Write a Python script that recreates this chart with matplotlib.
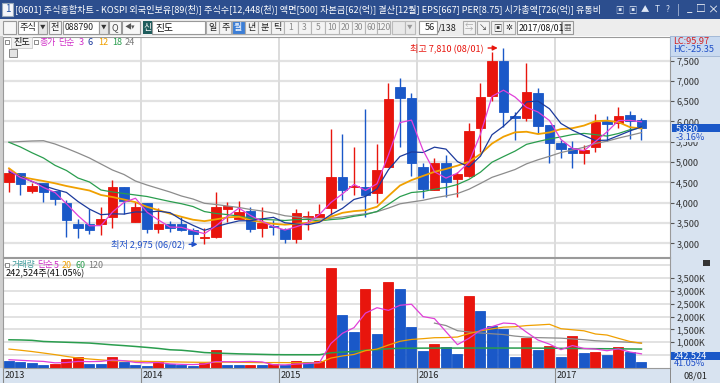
import numpy as np
import matplotlib
matplotlib.use("Agg")
import matplotlib.pyplot as plt
from matplotlib.patches import Rectangle
from matplotlib.transforms import blended_transform_factory

plt.rcParams['font.family'] = ['Noto Sans CJK KR', 'DejaVu Sans']

# monthly candles, Jan 2013 .. Aug 2017
years = ['2013', '2014', '2015', '2016', '2017']
year_start = [0, 12, 24, 36, 48]

opens = [4517, 4724, 4288, 4485, 4288, 3993, 3468, 3468, 3468, 3655, 4379, 3532, 3985, 3352,
         3468, 3468, 3328, 3123, 3163, 3837, 3599, 3796, 3369, 3420, 3345, 3106, 3655, 3655,
         3862, 4626, 4390, 4394, 4232, 4887, 6842, 6571, 4887, 4313, 4970, 4576, 4665, 5832,
         6635, 7490, 6135, 6094, 6709, 5914, 5463, 5340, 5232, 5379, 6012, 5956, 6160, 6030]
highs = [4855, 4730, 4478, 4490, 4290, 4067, 3599, 3845, 3901, 4559, 4390, 4025, 3985, 3862,
         3549, 3655, 3369, 3369, 4271, 4025, 4049, 3901, 3887, 3574, 3369, 3845, 3796, 3968,
         5815, 5692, 5380, 6300, 5445, 6941, 7079, 6695, 4970, 5094, 5175, 4760, 5970, 6956,
         7700, 7810, 6241, 7433, 6818, 5914, 5544, 5527, 5421, 6185, 6135, 6365, 6259, 6080]
lows = [4271, 4190, 4232, 4025, 3943, 3163, 3138, 3229, 3204, 3369, 3714, 3532, 3261, 3246,
        3286, 3303, 3039, 2975, 3138, 3532, 3599, 3286, 3163, 3204, 3000, 3015, 3328, 3655,
        3697, 4067, 4190, 3655, 3985, 4887, 5379, 4665, 4108, 4313, 4148, 4133, 4640, 5256,
        6500, 5872, 5540, 6000, 5709, 4985, 5094, 4847, 4946, 5256, 5527, 5833, 5561, 5544]
closes = [4724, 4453, 4419, 4256, 4084, 3581, 3384, 3328, 3599, 4379, 4049, 3901, 3352, 3468,
          3384, 3328, 3222, 3163, 3901, 3926, 3778, 3352, 3493, 3390, 3098, 3739, 3680, 3714,
          4626, 4313, 4410, 4185, 4805, 6547, 6571, 4985, 4330, 4970, 4517, 4700, 5773, 6596,
          7490, 6227, 6095, 6719, 5889, 5463, 5315, 5232, 5298, 5995, 5938, 6135, 6012, 5830]
volume_k = [283, 217, 210, 101, 167, 360, 438, 167, 155, 438, 217, 101, 90, 232, 155, 128,
            62, 194, 709, 128, 115, 130, 101, 155, 101, 283, 232, 283, 3876, 2066, 1380, 3062,
            1330, 3357, 3062, 1574, 671, 930, 814, 554, 2802, 2233, 1640, 1512, 411, 1163, 709,
            837, 438, 1225, 581, 605, 504, 798, 605, 242.524]

# moving averages as drawn on the chart
ma3 = [4800, 4620, 4532, 4376, 4253, 3974, 3683, 3431, 3437, 3769, 4009, 4110, 3767, 3574,
       3401, 3393, 3311, 3238, 3429, 3663, 3868, 3685, 3541, 3412, 3327, 3409, 3506, 3711,
       4007, 4218, 4450, 4303, 4467, 5179, 5974, 6034, 5295, 4762, 4606, 4729, 4997, 5690,
       6620, 6771, 6604, 6347, 6234, 6024, 5556, 5337, 5282, 5508, 5744, 6023, 6028, 5992]
ma6 = [4760, 4650, 4520, 4420, 4330, 4253, 4030, 3842, 3705, 3726, 3720, 3773, 3768, 3791,
       3756, 3580, 3443, 3320, 3411, 3487, 3553, 3557, 3602, 3640, 3506, 3475, 3459, 3519,
       3708, 3862, 4080, 4155, 4342, 4814, 5139, 5251, 5237, 5368, 5320, 5012, 4879, 5148,
       5674, 5884, 6147, 6483, 6503, 6314, 5951, 5786, 5653, 5532, 5540, 5652, 5768, 5868]
ma12 = [4847, 4640, 4584, 4534, 4478, 4411, 4355, 4300, 4190, 4140, 4079, 4013, 3899, 3817,
        3730, 3653, 3581, 3546, 3590, 3639, 3654, 3569, 3522, 3480, 3459, 3481, 3506, 3538,
        3655, 3751, 3793, 3815, 3900, 4167, 4423, 4556, 4659, 4761, 4831, 4913, 5009, 5199,
        5456, 5626, 5733, 5748, 5691, 5731, 5813, 5835, 5900, 6008, 6021, 5983, 5860, 5827]
ma18 = [5488, 5372, 5230, 5101, 4921, 4793, 4608, 4510, 4313, 4264, 4227, 4190, 4153, 4091,
        4030, 3975, 3906, 3782, 3736, 3707, 3671, 3621, 3588, 3578, 3562, 3585, 3589, 3552,
        3584, 3607, 3666, 3706, 3785, 3963, 4150, 4251, 4275, 4333, 4374, 4449, 4575, 4753,
        4997, 5136, 5270, 5437, 5507, 5571, 5621, 5679, 5707, 5676, 5641, 5705, 5798, 5846]
ma24 = [5488, 5507, 5520, 5527, 5446, 5340, 5224, 5101, 4953, 4805, 4695, 4534, 4436, 4350,
        4264, 4165, 4091, 3985, 3956, 3919, 3882, 3833, 3796, 3746, 3679, 3649, 3618, 3596,
        3618, 3649, 3691, 3727, 3777, 3868, 3973, 4018, 4059, 4121, 4168, 4226, 4332, 4475,
        4625, 4720, 4817, 4957, 5057, 5143, 5236, 5298, 5365, 5460, 5515, 5591, 5658, 5726]
vma5 = [322, 300, 275, 256, 200, 211, 255, 247, 257, 312, 283, 216, 200, 216, 159, 141, 133,
        154, 250, 244, 242, 255, 237, 126, 120, 154, 174, 211, 955, 1348, 1567, 2133, 2343,
        2239, 2438, 2477, 1999, 1919, 1410, 909, 1154, 1467, 1609, 1748, 1720, 1392, 1087,
        926, 712, 874, 758, 737, 671, 743, 619, 551]
vma20 = [736, 690, 640, 581, 520, 450, 388, 350, 315, 283, 275, 265, 256, 250, 240, 232, 225,
         220, 225, 228, 219, 215, 209, 212, 209, 205, 195, 200, 387, 468, 526, 674, 736, 892,
         1038, 1110, 1140, 1177, 1183, 1204, 1338, 1443, 1520, 1588, 1604, 1648, 1671, 1699,
         1527, 1485, 1445, 1322, 1281, 1153, 1030, 964]
vma60 = [1097, 1090, 1075, 1031, 1015, 1000, 985, 969, 935, 900, 870, 837, 800, 760, 709, 690,
         650, 600, 581, 565, 550, 540, 530, 520, 516, 516, 516, 516, 590, 620, 640, 690, 710,
         750, 765, 770, 772, 774, 775, 775, 775, 776, 776, 776, 775, 775, 772, 770, 765, 760,
         755, 750, 748, 745, 740, 736]
vma120 = [np.nan] * 37 + [1744, 1650, 1450, 1400, 1360, 1330, 1300, 1240, 1200, 1180, 1170,
                          1160, 1130, 1100, 1060, 1040, 1020, 1000, 970]

RED, BLUE = '#E8150D', '#1A58C8'
W, H = 720, 383

fig = plt.figure(figsize=(7.2, 3.83), dpi=100)
fig.patch.set_facecolor('white')


def fx(x):
    return x / W


def fy(y):
    return 1 - y / H


def box(x0, y0, x1, y1, fc, ec='none', lw=0.8, z=-1):
    fig.add_artist(Rectangle((fx(x0), fy(y1)), (x1 - x0) / W, (y1 - y0) / H,
                             transform=fig.transFigure, fc=fc, ec=ec, lw=lw, zorder=z))


def put(x, y, s, c='black', size=7, ha='left', z=8, **kw):
    fig.text(fx(x), fy(y), s, color=c, fontsize=size, ha=ha, va='center', zorder=z, **kw)


# title bar
box(0, 0, 720, 19, '#2C4E8E')
box(2, 3, 13, 16, '#F4F6FA', ec='#9AB')
put(7.5, 9.5, '1', '#1F4FA0', 7, ha='center')
put(15, 9.5, '[0601] 주식종합차트 - KOSPI 외국인보유[89(천)] 주식수[12,448(천)] 액면[500] '
    '자본금[62(억)] 결산[12월] EPS[667] PER[8.75] 시가총액[726(억)] 유통비',
    'white', 6.55)
for xx, s in zip([619, 632, 645, 657, 668], ['▣', '▣', '▲', 'T', '?']):
    put(xx, 9.5, s, '#DDE6F5', 6, ha='center')
put(677, 9.5, '|', '#C8D4EA', 7)
put(690, 8.5, '_', 'white', 7, ha='center')
put(701, 9.5, '□', 'white', 7, ha='center')
put(713, 9.5, '×', 'white', 8, ha='center')

# toolbar
box(0, 19, 720, 36, '#EDEDED')
box(3, 21, 16, 34, '#F7F7F7', ec='#999')
box(18, 21, 38, 34, 'white', ec='#999')
put(20, 27.5, '주식', '#222', 6.6)
box(38, 21, 47, 34, '#E6E6E6', ec='#999')
put(42.5, 27.5, '▼', '#333', 4, ha='center')
box(49, 21, 61, 34, '#F7F7F7', ec='#999')
put(55, 27.5, '전', '#222', 6.6, ha='center')
box(63, 21, 99, 34, 'white', ec='#999')
put(64.5, 27.5, '088790', '#222', 6.3)
box(99, 21, 108, 34, '#E6E6E6', ec='#999')
put(103.5, 27.5, '▼', '#333', 4, ha='center')
box(109, 21, 121, 34, '#F7F7F7', ec='#999')
put(115, 27.5, 'Q', '#444', 6.5, ha='center')
box(122, 21, 140, 34, '#F7F7F7', ec='#999')
put(130, 27.5, '◀▾', '#555', 5, ha='center')
box(143, 21, 152, 34, '#1E5C5C')
put(147.5, 27.5, '신', 'white', 6.3, ha='center')
box(152, 21, 205, 34, 'white', ec='#999')
put(155, 27.5, '진도', '#111', 7)
for k, s in enumerate(['일', '주', '월', '년', '분', '틱']):
    x0 = 206 + 13 * k
    sel = s == '월'
    box(x0, 21, x0 + 12.5, 34, '#3C7ED6' if sel else '#F3F3F3', ec='#AAA')
    put(x0 + 6.2, 27.5, s, 'white' if sel else '#222', 6.5, ha='center')
edges = [284, 298, 311, 325, 339, 352, 365, 377, 390]
for k, s in enumerate(['1', '3', '5', '10', '20', '30', '60', '120']):
    box(edges[k], 21, edges[k + 1], 34, '#F3F3F3', ec='#B5B5B5')
    put((edges[k] + edges[k + 1]) / 2, 27.5, s, '#8A8A8A', 6.2, ha='center')
box(392, 21, 405, 34, '#E9E9E9', ec='#BBB')
box(405, 21, 415, 34, '#E9E9E9', ec='#BBB')
put(410, 27.5, '▼', '#999', 4, ha='center')
box(419, 21, 437, 34, 'white', ec='#999')
put(435, 27.5, '56', '#222', 6.6, ha='right')
put(438, 27.5, '/138', '#222', 6.6)
for x0 in [463, 477, 491, 503]:
    box(x0, 21, x0 + 12, 34, '#F3F3F3', ec='#AAA')
put(469, 27.5, '⇆', '#AAA', 6, ha='center')
put(483, 27.5, '↘', '#444', 6, ha='center')
put(497, 27.5, '▣', '#333', 6, ha='center')
put(509, 27.5, '✲', '#333', 6, ha='center')
box(517, 21, 561, 34, 'white', ec='#999')
put(518.5, 27.5, '2017/08/01', '#111', 6.3)
box(562, 21, 573, 34, '#F3F3F3', ec='#999')
put(567.5, 27.5, '▦', '#555', 5.5, ha='center')

# frame around chart area
box(0, 36, 3, 383, '#CFCFCF')
box(670, 36, 720, 368, '#D8E3F0')
box(0, 368, 720, 383, '#D8E3F0')
box(670, 36, 720, 56, '#C9DAF0', ec='#9DB3D3', lw=0.6, z=6)
put(673, 41, 'LC:95.97', '#D42020', 6.6)
put(673, 49, 'HC:-25.35', '#2050C8', 6.6)

x = np.arange(len(closes))
o, h, l, c = map(np.array, (opens, highs, lows, closes))
up = c >= o
col = np.where(up, RED, BLUE)
vol = np.array(volume_k)
vup = np.r_[False, vol[1:] > vol[:-1]]
vcol = np.where(vup, RED, BLUE)
bounds = [s - 0.5 for s in year_start]

# price panel
ax = fig.add_axes([fx(3), fy(257), (670 - 3) / W, (257 - 37) / H])
ax.set_xlim(-0.52, 57.48)
ax.set_ylim(2663, 8081)
for p in range(3000, 8000, 500):
    ax.axhline(p, color='#E2E2E2', lw=1.6, zorder=0)
for b in bounds[1:]:
    ax.axvline(b, color='#DCDCDC', lw=1.4, zorder=0)
ax.vlines(x, lows, highs, colors=col, lw=1.0, zorder=2)
body = np.maximum(np.abs(c - o), 30)
ax.bar(x, body, bottom=np.minimum(o, c), width=0.82, color=col, edgecolor=col, lw=0.6, zorder=3)
ax.plot(x, ma24, color='#8C8C8C', lw=0.9, zorder=4)
ax.plot(x, ma18, color='#2A9D4E', lw=0.9, zorder=4)
ax.plot(x, ma12, color='#F0A000', lw=1.3, zorder=4)
ax.plot(x, ma6, color='#1C3A9C', lw=0.9, zorder=4)
ax.plot(x, ma3, color='#E040D8', lw=0.9, zorder=4)
ax.yaxis.tick_right()
ax.set_yticks(range(3000, 8000, 500))
ax.set_yticklabels([f'{p:,}' for p in range(3000, 8000, 500)])
ax.tick_params(axis='y', length=3, width=0.8, color='#555', labelsize=6.6,
               labelcolor='#333', pad=1.5)
ax.set_xticks([])
for s in ax.spines.values():
    s.set_color('#9A9A9A')
    s.set_linewidth(0.8)

imax = int(np.argmax(h))
imin = int(np.argmin(l))
ax.annotate(f'최고 {h[imax]:,} (08/01)', xy=(imax - 0.5, h[imax]), xytext=(imax - 1.7, h[imax]),
            color=RED, fontsize=6.6, ha='right', va='center',
            arrowprops=dict(arrowstyle='-|>', color=RED, lw=1, mutation_scale=7,
                            shrinkA=1, shrinkB=0))
ax.annotate(f'최저 {l[imin]:,} (06/02)', xy=(imin - 0.6, l[imin]), xytext=(imin - 1.7, l[imin]),
            color='#2050C8', fontsize=6.6, ha='right', va='center',
            arrowprops=dict(arrowstyle='-|>', color='#2050C8', lw=1, mutation_scale=7,
                            shrinkA=1, shrinkB=0))

tr = blended_transform_factory(ax.transAxes, ax.transData)
ax.add_patch(Rectangle((1.003, c[-1] - 100), 0.078, 200, transform=tr, clip_on=False,
                       fc='#1A58C8', ec='none', zorder=8))
ax.text(1.008, c[-1], f'{c[-1]:,}', transform=tr, color='white', fontsize=6.6,
        va='center', zorder=9, clip_on=False)
ax.add_patch(Rectangle((1.003, c[-1] - 330), 0.078, 210, transform=tr, clip_on=False,
                       fc='#D8E3F0', ec='none', zorder=8))
ax.text(1.008, c[-1] - 225, '-3.16%', transform=tr, color='#2050C8', fontsize=6.6,
        va='center', zorder=9, clip_on=False)

# price legend
box(5, 40, 8.5, 44, 'white', ec='#777', lw=0.6, z=6)
box(11, 37.5, 32, 47.5, '#F2F2F2', ec='#C9C9C9', lw=0.6, z=6)
put(13, 42.5, '진도', '#111', 6.6)
box(34, 40, 37.5, 44, 'white', ec='#777', lw=0.6, z=6)
put(40, 42.5, '종가', '#D030C8', 6.4)
put(58, 42.5, '단순', '#D030C8', 6.4)
for xx, s, cc in [(79, '3', '#D030C8'), (88, '6', '#1C3A9C'), (98, '12', '#F0A000'),
                  (112, '18', '#2A9D4E'), (125, '24', '#777777')]:
    put(xx, 42.5, s, cc, 6.6)
box(9, 49.5, 17, 57, '#E4E4E4', ec='#777', lw=0.6, z=6)

# volume panel
av = fig.add_axes([fx(3), fy(368), (670 - 3) / W, (368 - 258) / H])
av.set_xlim(-0.52, 57.48)
av.set_ylim(0, 4275)
for v in range(500, 4500, 500):
    av.axhline(v, color='#E2E2E2', lw=1.4, zorder=0)
for b in bounds[1:]:
    av.axvline(b, color='#DCDCDC', lw=1.4, zorder=0)
av.bar(x, vol, width=0.87, color=vcol, edgecolor=vcol, lw=0.6, zorder=2)
av.plot(x, vma120, color='#8C8C8C', lw=0.9, zorder=3)
av.plot(x, vma60, color='#2A9D4E', lw=1.1, zorder=3)
av.plot(x, vma20, color='#F0A000', lw=0.9, zorder=3)
av.plot(x, vma5, color='#E040D8', lw=0.9, zorder=3)
av.yaxis.tick_right()
vt = list(range(1000, 4000, 500))
av.set_yticks(vt)
av.set_yticklabels([f'{v:,}K' for v in vt])
av.tick_params(axis='y', length=3, width=0.8, color='#555', labelsize=6.6,
               labelcolor='#333', pad=1.5)
av.set_xticks(bounds)
av.set_xticklabels([])
av.tick_params(axis='x', length=15, width=0.8, color='#8A8A8A')
trx = blended_transform_factory(av.transData, av.transAxes)
for b, s in zip(bounds, years):
    av.text(b + 0.12, -0.068, s, transform=trx, fontsize=6.6, color='#222', va='center')
for s in av.spines.values():
    s.set_color('#9A9A9A')
    s.set_linewidth(0.8)

box(5, 263, 8.5, 267, 'white', ec='#777', lw=0.6, z=6)
put(12, 265, '거래량', '#3E9A9A', 6.2)
put(37, 265, '단순', '#D030C8', 6.2)
put(54, 265, '5', '#D030C8', 6.4)
put(62, 265, '20', '#F0A000', 6.4)
put(75, 265, '60', '#2A9D4E', 6.4)
put(88, 265, '120', '#777777', 6.4)
put(6, 273.5, f'{vol[-1] * 1000:,.0f}주(41.05%)', '#111', 6.6)
box(703, 259.5, 710, 266, '#333333', z=6)
box(671, 351.5, 720, 359.5, '#1A58C8', z=6)
put(674, 355.5, f'{vol[-1] * 1000:,.0f}', 'white', 6.6)
box(671, 360, 720, 367.5, '#D8E3F0', z=6)
put(674, 364, '41.05%', '#2050C8', 6.6)
put(683, 375.5, '08/01', '#222', 6.6)
box(670, 368, 671, 383, '#8A8A8A', z=6)

fig.savefig('out.png', dpi=100)
